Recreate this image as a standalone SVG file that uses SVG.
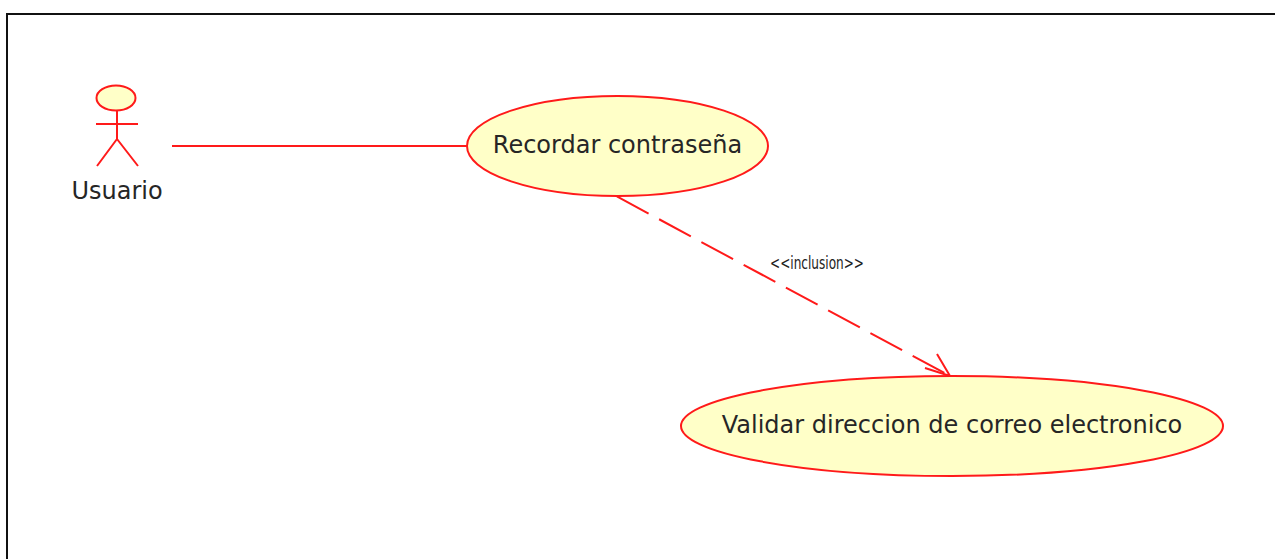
<svg xmlns="http://www.w3.org/2000/svg" width="1275" height="559" viewBox="0 0 1275 559">
<style>
.l{fill:none;stroke:#ff1a1a;stroke-width:2}
.u{fill:#ffffc8;stroke:#ff1a1a;stroke-width:2}
.t{font-family:"DejaVu Sans",sans-serif;font-size:24px;fill:#262626;text-anchor:middle}
.s{font-family:"Liberation Sans Narrow","DejaVu Sans Condensed","Liberation Sans",sans-serif;font-size:18px;fill:#222;text-anchor:middle}
</style>
<rect width="1275" height="559" fill="#fff"/>
<path d="M7 559V14H1275" fill="none" stroke="#111" stroke-width="2"/>
<g id="connectors">
<path class="l" d="M172 146H467"/>
<path class="l" d="M616 196L950 376" stroke-dasharray="36 12" stroke-dashoffset="-1"/>
<path class="l" d="M937 354L950 376L925 368"/>
<text class="s" x="817" y="269" textLength="94" lengthAdjust="spacingAndGlyphs">&lt;&lt;inclusion&gt;&gt;</text>
</g>
<g id="usuario">
<ellipse class="u" cx="116" cy="98" rx="19.500" ry="12.500"/>
<path class="l" d="M117 110V139M96 124H138M117 139L97 166M117 139L138 166"/>
<text class="t" x="117" y="199">Usuario</text>
</g>
<g id="recordar">
<ellipse class="u" cx="617.500" cy="146" rx="150.500" ry="50"/>
<text class="t" x="617.500" y="153">Recordar contraseña</text>
</g>
<g id="validar">
<ellipse class="u" cx="952" cy="426" rx="271" ry="50"/>
<text class="t" x="952" y="433">Validar direccion de correo electronico</text>
</g>
</svg>
